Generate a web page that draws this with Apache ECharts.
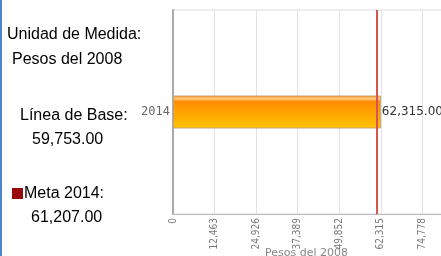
<!DOCTYPE html>
<html lang="es">
<head>
<meta charset="UTF-8">
<title>Meta 2014</title>
<script src="https://cdn.jsdelivr.net/npm/echarts@6/dist/echarts.min.js"></script>
<style>
  html, body { margin: 0; padding: 0; background: #fff; overflow: hidden; }
  #chart { width: 441px; height: 256px; }
</style>
</head>
<body>
<div id="chart"></div>
<script>
// datos
const categorias = ['2014'];
const valores = [62315];
const meta = 61207;
const intervalo = 12463;
const maxEje = 87241;
const unidad = 'Pesos del 2008';
const panelTextos = ['Unidad de Medida:', 'Pesos del 2008', 'Línea de Base:', '59,753.00', 'Meta 2014:', '61,207.00'];

const fmt = v => Number(v).toLocaleString('en-US');
const fmt2 = v => Number(v).toLocaleString('en-US', { minimumFractionDigits: 2, maximumFractionDigits: 2 });

const chart = echarts.init(document.getElementById('chart'));

const txt = (text, x, y) => ({
    type: 'text', left: x, top: y,
    style: { text: text, fill: '#000', font: '16px "Liberation Sans", Arial, sans-serif' }
});

const option = {
    animation: false,
    grid: {
        left: 173, top: 10, width: 291, height: 204,
        outerBoundsMode: 'none',
        show: true, borderColor: '#ddd', borderWidth: 1
    },
    graphic: [
        { type: 'rect', left: 0, top: 0, shape: { width: 2, height: 256 }, style: { fill: '#4a86c8' } },
        txt(panelTextos[0], 7, 27),
        txt(panelTextos[1], 12, 52),
        txt(panelTextos[2], 20, 108),
        txt(panelTextos[3], 32, 132),
        { type: 'rect', left: 12, top: 188, shape: { width: 11, height: 11 }, style: { fill: '#9b0a0a' } },
        txt(panelTextos[4], 24, 186),
        txt(panelTextos[5], 31, 210)
    ],
    xAxis: {
        type: 'value',
        min: 0,
        max: maxEje,
        interval: intervalo,
        name: unidad,
        nameLocation: 'middle',
        nameGap: 34,
        nameMoveOverlap: false,
        nameTextStyle: { color: '#888', fontSize: 11, fontFamily: 'DejaVu Sans', padding: [0, 24, 0, 0] },
        axisLine: { show: true, lineStyle: { color: '#bbb' } },
        axisTick: { show: false },
        axisLabel: { rotate: 90, color: '#777', fontSize: 10, fontFamily: 'DejaVu Sans Condensed', formatter: fmt, margin: 4, hideOverlap: false },
        splitLine: { show: true, lineStyle: { color: '#e2e2e2' } }
    },
    yAxis: {
        type: 'category',
        data: categorias,
        axisLine: { show: true, lineStyle: { color: '#aaa', width: 2 } },
        axisTick: { show: false },
        axisLabel: { color: '#666', fontSize: 12, fontFamily: 'DejaVu Sans Mono', margin: 3 },
        splitLine: { show: false }
    },
    series: [{
        type: 'bar',
        data: valores,
        barWidth: 33,
        itemStyle: {
            borderColor: '#c9a070',
            borderWidth: 1,
            color: new echarts.graphic.LinearGradient(0, 0, 0, 1, [
                { offset: 0, color: '#ff8c00' },
                { offset: 0.1, color: '#ffcf8a' },
                { offset: 0.18, color: '#ff8c00' },
                { offset: 1, color: '#ffc400' }
            ])
        },
        label: {
            show: true,
            position: 'right',
            distance: 1,
            color: '#333',
            fontSize: 12,
            fontFamily: 'DejaVu Sans',
            formatter: p => fmt2(p.value)
        },
        markLine: {
            symbol: 'none',
            silent: true,
            label: { show: false },
            lineStyle: { color: '#d9534f', width: 2, type: 'solid' },
            data: [{ xAxis: meta }]
        }
    }]
};

chart.setOption(option);
</script>
</body>
</html>
